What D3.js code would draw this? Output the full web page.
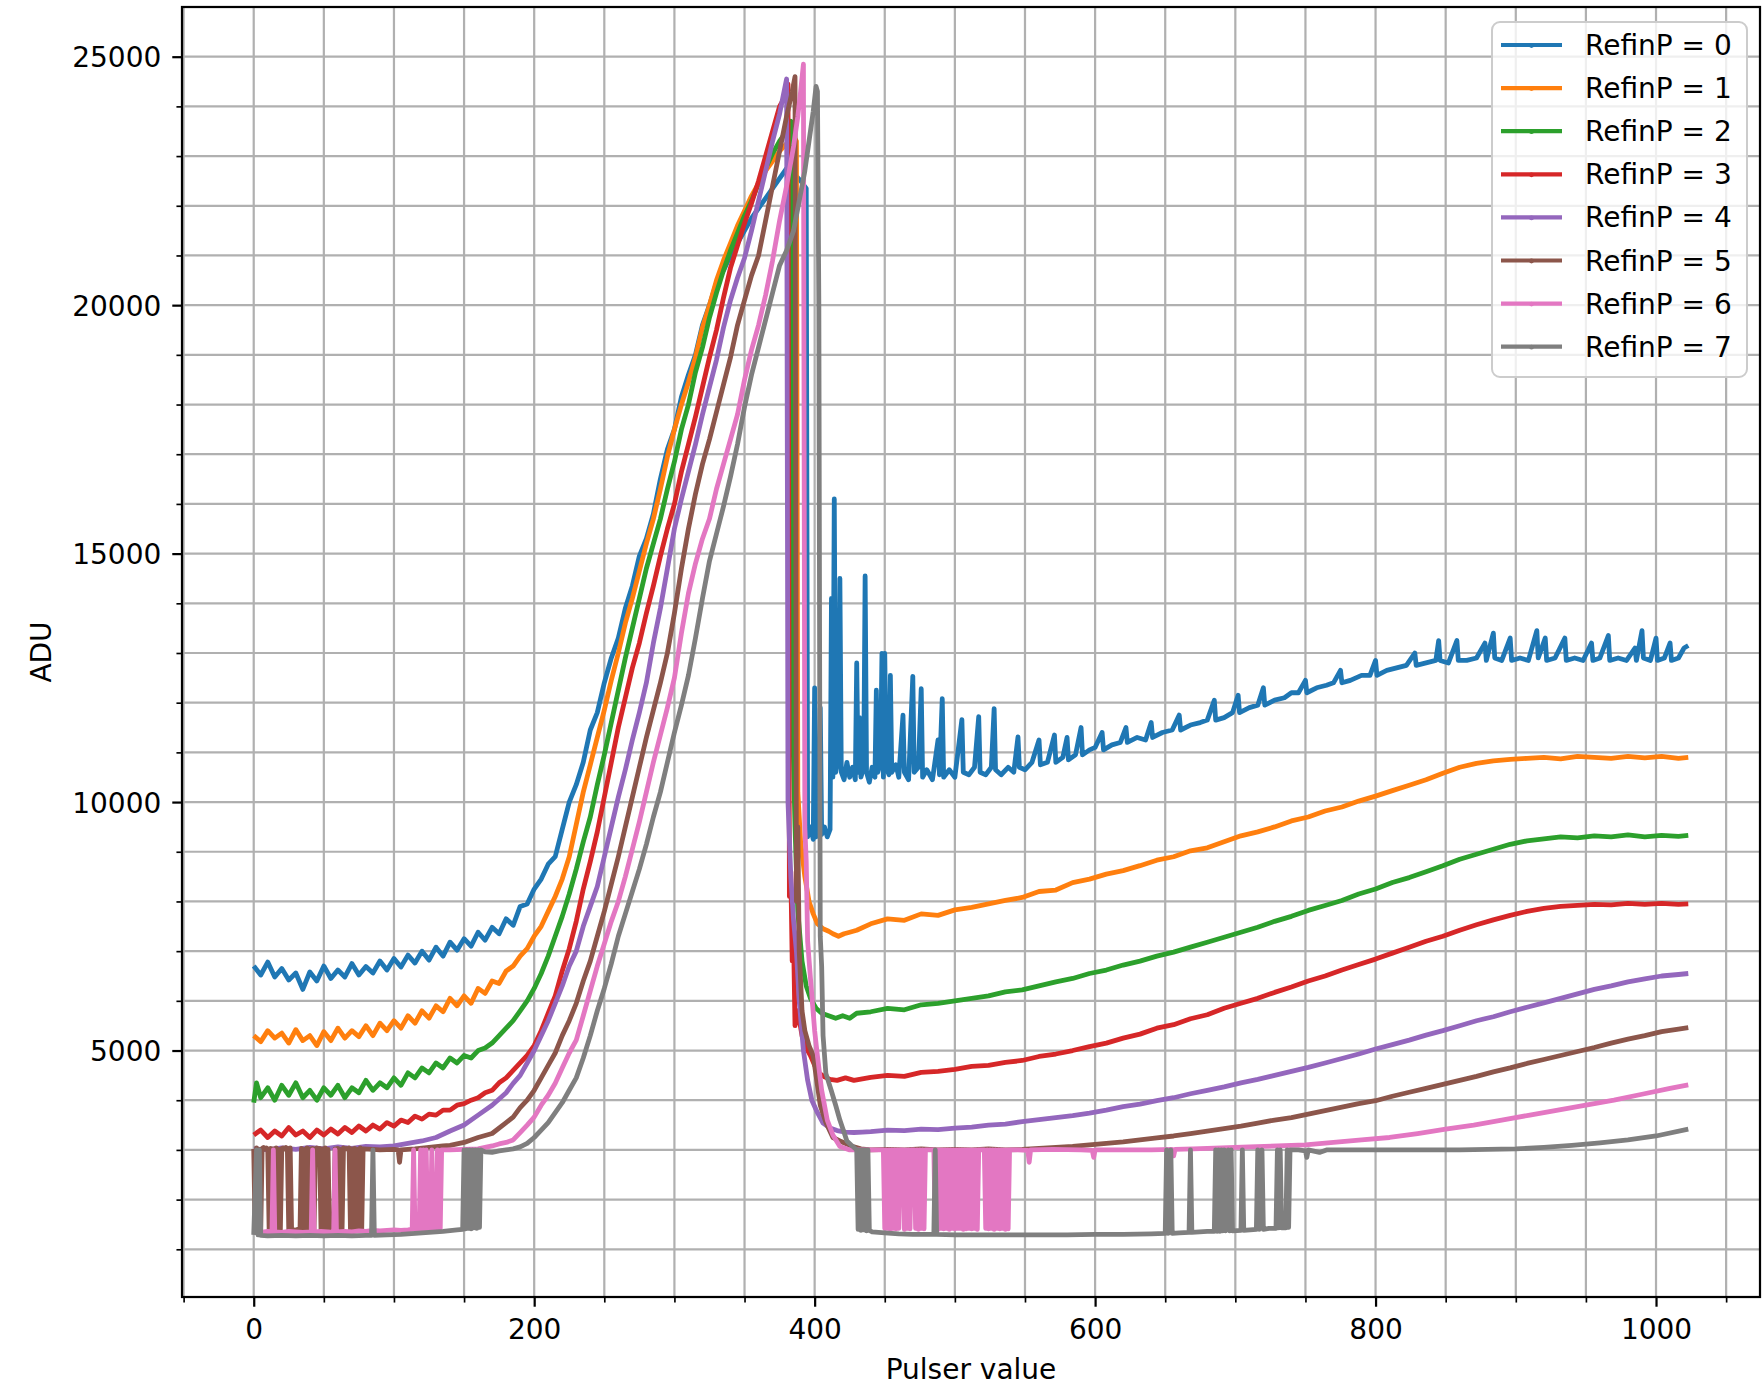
<!DOCTYPE html>
<html>
<head>
<meta charset="utf-8">
<script src="https://cdn.jsdelivr.net/npm/d3@7"></script>
<style>
  body { margin: 0; background: #fff; }
  svg { display: block; font-family: 'DejaVu Sans', sans-serif; }
</style>
</head>
<body>
<svg id="chart"></svg>
<script>
const xMajorTicks = [0, 200, 400, 600, 800, 1000]
const yMajorTicks = [5000, 10000, 15000, 20000, 25000]
const seriesNames = ['RefinP = 0', 'RefinP = 1', 'RefinP = 2', 'RefinP = 3', 'RefinP = 4', 'RefinP = 5', 'RefinP = 6', 'RefinP = 7']

// [pulser value, ADU] pairs
const refinP0 = [[0,6700],[5,6520],[10,6780],[15,6480],[20,6650],[25,6420],[30,6560],[35,6230],[40,6580],[45,6400],[50,6700],[55,6450],[60,6620],[65,6480],[70,6750],[75,6520],[80,6690],[85,6560],[90,6800],[95,6620],[100,6850],[105,6680],[110,6920],[115,6760],[120,7000],[125,6820],[130,7080],[135,6900],[140,7180],[145,7020],[150,7250],[155,7100],[160,7380],[165,7220],[170,7480],[175,7350],[180,7650],[185,7520],[190,7900],[195,7950],[200,8250],[205,8450],[210,8750],[215,8900],[220,9450],[225,10000],[230,10350],[235,10800],[240,11450],[245,11800],[250,12400],[255,12900],[260,13300],[265,13900],[270,14350],[275,14950],[280,15300],[285,15800],[290,16500],[295,17100],[300,17500],[305,18150],[310,18600],[315,19000],[320,19600],[325,20000],[330,20450],[335,20700],[340,21000],[345,21250],[350,21500],[355,21750],[360,21950],[365,22150],[370,22350],[375,22550],[380,22750],[385,22650],[390,22500],[394,22350],[395,9300],[397,9500],[399,9250],[400,12300],[401,9300],[403,9400],[404,11900],[405,9350],[407,9500],[409,9300],[411,9450],[412,14100],[413,10500],[414,16100],[415,10600],[417,10900],[418,14500],[419,10600],[421,10450],[423,10800],[425,10500],[427,10700],[429,10450],[430,12800],[431,10600],[432,11700],[433,10500],[435,10700],[436,14550],[437,10600],[439,10400],[441,10700],[443,10500],[444,12250],[445,10600],[447,10800],[448,12990],[449,10500],[450,12990],[451,10700],[453,10550],[454,12550],[455,10600],[458,10750],[460,10500],[463,11750],[464,10600],[467,10450],[470,12530],[471,10600],[474,10700],[476,12280],[477,10500],[480,10650],[484,10450],[488,11250],[489,10550],[491,12080],[492,10500],[496,10650],[500,10500],[505,11660],[506,10600],[510,10550],[514,10700],[517,11720],[518,10600],[522,10550],[526,10700],[528,11880],[529,10650],[533,10550],[538,10700],[542,10600],[545,11310],[546,10700],[550,10650],[555,10800],[560,11250],[561,10750],[566,10800],[571,11350],[572,10800],[577,10900],[580,11300],[581,10850],[586,10950],[590,11500],[591,10950],[596,11050],[600,11100],[605,11400],[606,11050],[612,11150],[618,11200],[622,11500],[623,11200],[630,11300],[636,11250],[640,11600],[641,11300],[648,11400],[655,11450],[660,11750],[661,11450],[668,11550],[675,11600],[680,11650],[685,12050],[686,11650],[692,11700],[698,11800],[702,12150],[703,11800],[710,11900],[716,11950],[720,12300],[721,11950],[728,12050],[735,12100],[740,12200],[745,12200],[750,12450],[751,12200],[758,12300],[765,12350],[770,12400],[775,12650],[776,12400],[782,12450],[790,12550],[796,12550],[800,12850],[801,12550],[808,12650],[815,12700],[822,12750],[828,13000],[829,12750],[836,12800],[843,12850],[845,13250],[846,12850],[852,12800],[858,13250],[859,12850],[865,12850],[872,12900],[878,13200],[879,12850],[884,13400],[885,12900],[890,12850],[896,13300],[897,12850],[903,12900],[909,12850],[915,13450],[916,12900],[921,13300],[922,12850],[928,12900],[935,13300],[936,12850],[942,12900],[948,12850],[954,13200],[955,12850],[960,12900],[966,13350],[967,12850],[973,12900],[979,12850],[985,13100],[986,12850],[990,13450],[991,12900],[996,12850],[1000,13300],[1001,12850],[1006,12900],[1010,13200],[1011,12850],[1016,12900],[1020,13100],[1023,13150]]

const refinP1 = [[0,5300],[5,5180],[10,5400],[15,5250],[20,5350],[25,5150],[30,5420],[35,5200],[40,5300],[45,5100],[50,5380],[55,5200],[60,5450],[65,5250],[70,5400],[75,5280],[80,5500],[85,5300],[90,5550],[95,5400],[100,5600],[105,5450],[110,5700],[115,5550],[120,5800],[125,5650],[130,5900],[135,5780],[140,6050],[145,5900],[150,6100],[155,5950],[160,6250],[165,6150],[170,6400],[175,6350],[180,6600],[185,6700],[190,6900],[195,7050],[200,7300],[205,7500],[210,7800],[215,8100],[220,8450],[225,8900],[230,9550],[235,10200],[240,10750],[245,11300],[250,11850],[255,12450],[260,13000],[265,13600],[270,14100],[275,14650],[280,15200],[285,15700],[290,16300],[295,16950],[300,17500],[305,18000],[310,18450],[315,18950],[320,19550],[325,20000],[330,20500],[335,20900],[340,21250],[345,21600],[350,21900],[355,22200],[360,22450],[365,22700],[370,22900],[375,23100],[380,23250],[385,23400],[387,23300],[388,10200],[390,9200],[393,8500],[396,8000],[399,7750],[402,7550],[406,7450],[410,7400],[413,7350],[417,7300],[421,7350],[425,7380],[430,7420],[440,7550],[452,7650],[464,7620],[476,7750],[488,7720],[500,7830],[512,7880],[524,7950],[536,8020],[548,8080],[560,8200],[572,8230],[584,8380],[596,8450],[608,8550],[620,8620],[632,8720],[644,8830],[656,8900],[668,9020],[680,9080],[692,9200],[704,9320],[716,9400],[728,9500],[740,9620],[752,9700],[764,9820],[776,9900],[788,10020],[800,10120],[812,10230],[824,10340],[836,10450],[848,10580],[860,10700],[872,10780],[884,10830],[896,10860],[908,10880],[920,10900],[932,10870],[944,10920],[956,10900],[968,10880],[980,10920],[992,10890],[1004,10920],[1016,10880],[1023,10900]]

const refinP2 = [[0,3950],[2,4350],[5,4050],[10,4250],[15,4000],[20,4300],[25,4100],[30,4350],[35,4050],[40,4200],[45,4000],[50,4250],[55,4100],[60,4300],[65,4050],[70,4250],[75,4150],[80,4400],[85,4200],[90,4350],[95,4250],[100,4450],[105,4300],[110,4550],[115,4450],[120,4650],[125,4550],[130,4750],[135,4650],[140,4850],[145,4750],[150,4900],[155,4850],[160,5000],[165,5050],[170,5150],[175,5300],[180,5450],[185,5600],[190,5800],[195,6000],[200,6250],[205,6550],[210,6900],[215,7300],[220,7700],[225,8150],[230,8650],[235,9200],[240,9700],[245,10350],[250,10950],[255,11600],[260,12250],[265,12900],[270,13500],[275,14100],[280,14700],[285,15200],[290,15700],[295,16300],[300,16850],[305,17500],[310,18000],[315,18650],[320,19150],[325,19750],[330,20250],[335,20700],[340,21100],[345,21450],[350,21800],[355,22100],[360,22450],[365,22750],[370,23050],[375,23300],[380,23500],[383,23700],[384,12000],[386,9500],[388,7800],[391,6800],[394,6300],[397,6050],[401,5850],[405,5750],[410,5700],[415,5650],[420,5700],[425,5650],[430,5750],[440,5780],[452,5850],[464,5820],[476,5920],[488,5950],[500,6000],[512,6050],[524,6100],[536,6180],[548,6220],[560,6300],[572,6380],[584,6450],[596,6550],[608,6620],[620,6720],[632,6800],[644,6900],[656,6980],[668,7080],[680,7180],[692,7280],[704,7380],[716,7480],[728,7600],[740,7700],[752,7820],[764,7920],[776,8020],[788,8150],[800,8250],[812,8380],[824,8480],[836,8600],[848,8720],[860,8850],[872,8950],[884,9050],[896,9150],[908,9220],[920,9260],[932,9300],[944,9280],[956,9320],[968,9300],[980,9340],[992,9300],[1004,9330],[1016,9310],[1023,9330]]

const refinP3 = [[0,3300],[5,3400],[10,3250],[15,3380],[20,3280],[25,3450],[30,3300],[35,3380],[40,3250],[45,3400],[50,3300],[55,3420],[60,3320],[65,3450],[70,3350],[75,3480],[80,3380],[85,3500],[90,3420],[95,3550],[100,3480],[105,3600],[110,3550],[115,3680],[120,3620],[125,3720],[130,3700],[135,3800],[140,3800],[145,3900],[150,3930],[155,4000],[160,4050],[165,4150],[170,4200],[175,4350],[180,4450],[185,4600],[190,4750],[195,4900],[200,5100],[205,5400],[210,5750],[215,6100],[220,6600],[225,7050],[230,7600],[235,8250],[240,8800],[245,9400],[250,10100],[255,10800],[260,11500],[265,12100],[270,12700],[275,13200],[280,13800],[285,14350],[290,14950],[295,15500],[300,16000],[305,16650],[310,17200],[315,17750],[320,18350],[325,18950],[330,19500],[335,20150],[340,20750],[345,21200],[350,21650],[355,22050],[360,22500],[365,23000],[370,23500],[375,24000],[379,24200],[381,24450],[382,8100],[383,8600],[384,6800],[385,7200],[386,5500],[388,5800],[391,5300],[394,5050],[397,4900],[400,4700],[403,4550],[407,4470],[411,4420],[416,4400],[422,4450],[428,4400],[434,4430],[440,4460],[452,4500],[464,4480],[476,4560],[488,4580],[500,4620],[512,4680],[524,4700],[536,4760],[548,4800],[560,4880],[572,4930],[584,5000],[596,5080],[608,5150],[620,5250],[632,5330],[644,5450],[656,5520],[668,5640],[680,5720],[692,5850],[704,5950],[716,6050],[728,6170],[740,6280],[752,6400],[764,6500],[776,6620],[788,6730],[800,6840],[812,6960],[824,7080],[836,7200],[848,7300],[860,7420],[872,7530],[884,7630],[896,7720],[908,7800],[920,7860],[932,7900],[944,7920],[956,7940],[968,7930],[980,7960],[992,7940],[1004,7960],[1016,7940],[1023,7950]]

const refinP4 = [[0,3020],[10,3000],[20,3040],[30,3010],[40,3050],[50,3020],[60,3060],[70,3030],[80,3070],[90,3060],[100,3080],[110,3130],[120,3180],[130,3250],[140,3380],[150,3500],[160,3700],[170,3900],[180,4150],[185,4340],[190,4500],[195,4750],[200,5000],[205,5300],[210,5600],[215,5950],[220,6300],[225,6700],[230,7000],[235,7500],[240,7900],[245,8300],[250,8900],[255,9500],[260,10100],[265,10650],[270,11250],[275,11800],[280,12400],[285,13200],[290,13900],[295,14700],[300,15500],[305,16100],[310,16650],[315,17200],[320,17800],[325,18350],[330,18900],[335,19550],[340,20100],[345,20550],[350,20950],[355,21500],[360,22100],[365,22700],[370,23300],[375,23850],[380,24550],[381,10000],[383,8500],[385,7600],[387,7000],[389,6000],[392,5000],[395,4400],[398,4000],[402,3750],[406,3540],[411,3440],[416,3390],[422,3360],[428,3350],[434,3360],[440,3370],[452,3400],[464,3390],[476,3420],[488,3410],[500,3440],[512,3460],[524,3500],[536,3520],[548,3570],[560,3610],[572,3650],[584,3690],[596,3740],[608,3800],[620,3870],[632,3920],[644,3990],[656,4050],[668,4130],[680,4200],[692,4270],[704,4350],[716,4420],[728,4500],[740,4580],[752,4660],[764,4750],[776,4840],[788,4930],[800,5030],[812,5120],[824,5210],[836,5310],[848,5400],[860,5500],[872,5600],[884,5680],[896,5780],[908,5870],[920,5960],[932,6050],[944,6140],[956,6230],[968,6300],[980,6380],[992,6440],[1004,6500],[1016,6530],[1023,6550]]

const refinP5 = [[0,3020],[1,1380],[2,3040],[3,1390],[4,3010],[5,1380],[6,3030],[7,3050],[8,3020],[9,3040],[10,3010],[11,1390],[12,3030],[13,1380],[14,3020],[15,1400],[16,3040],[17,1380],[18,3010],[19,1390],[20,3030],[21,3040],[22,3020],[23,3050],[24,3010],[25,1380],[26,3040],[27,1390],[28,1380],[29,1390],[30,1380],[31,1400],[32,1390],[33,1380],[34,3030],[35,1380],[36,3010],[37,1400],[38,3040],[39,1390],[40,3020],[41,1380],[42,3030],[43,1390],[44,3010],[45,3040],[46,3020],[47,3030],[48,1380],[49,3020],[50,1390],[51,3040],[52,1380],[53,3010],[54,1400],[55,1390],[56,1380],[57,1400],[58,3020],[59,1390],[60,3030],[61,1380],[62,3010],[63,1390],[64,3040],[65,3020],[66,3030],[67,3010],[68,3040],[69,1380],[70,3020],[71,1390],[72,3030],[73,1380],[74,3010],[75,1400],[76,3040],[77,1390],[78,3020],[85,3010],[90,3000],[100,3010],[103,3000],[104,2750],[105,3000],[115,3020],[125,3050],[135,3080],[140,3090],[150,3150],[160,3250],[170,3330],[180,3550],[185,3660],[190,3850],[195,4000],[200,4200],[205,4450],[210,4700],[215,4950],[220,5300],[225,5600],[230,5950],[235,6400],[240,6800],[245,7300],[250,7800],[255,8350],[260,8900],[265,9500],[270,10100],[275,10700],[280,11300],[285,11850],[290,12400],[295,13000],[300,13800],[305,14700],[310,15500],[315,16200],[320,16800],[325,17300],[330,17850],[335,18400],[340,18950],[345,19600],[350,20100],[355,20600],[360,21000],[365,21700],[370,22400],[375,23100],[380,23800],[384,24300],[386,24600],[387,8000],[388,9500],[389,7000],[391,5800],[393,5400],[396,5100],[399,4890],[402,4300],[404,3900],[408,3550],[413,3250],[418,3180],[423,3120],[428,3060],[433,3020],[440,3000],[452,3010],[464,3000],[476,3020],[488,3000],[500,3010],[512,3000],[524,3020],[536,3000],[548,3010],[560,3030],[572,3050],[584,3070],[596,3100],[608,3130],[620,3160],[632,3200],[644,3240],[656,3280],[668,3330],[680,3380],[692,3430],[704,3480],[716,3540],[728,3600],[740,3650],[752,3720],[764,3790],[776,3860],[788,3930],[800,3990],[812,4080],[824,4160],[836,4240],[848,4320],[860,4400],[872,4480],[884,4570],[896,4650],[908,4740],[920,4820],[932,4900],[944,4980],[956,5060],[968,5150],[980,5230],[992,5300],[1004,5380],[1016,5430],[1023,5460]]

const refinP6 = [[0,1350],[5,1340],[10,1360],[13,1350],[14,3000],[15,1350],[20,1340],[25,1360],[30,1350],[35,1340],[41,1350],[42,3000],[43,1350],[48,1360],[53,1350],[57,1340],[58,3000],[59,1350],[65,1360],[70,1350],[75,1370],[80,1360],[85,1380],[90,1370],[95,1380],[100,1390],[105,1380],[110,1390],[113,1400],[114,3000],[115,1400],[118,1390],[119,3000],[120,1400],[121,3000],[122,1400],[123,3000],[124,1400],[126,1400],[127,3000],[128,1400],[130,1410],[131,3000],[132,1400],[133,1410],[134,3000],[140,3000],[150,3010],[160,3020],[165,3050],[170,3080],[175,3120],[180,3150],[185,3200],[190,3350],[195,3500],[200,3660],[205,3900],[210,4100],[215,4340],[220,4650],[225,4950],[230,5210],[235,5700],[240,6200],[245,6700],[250,7150],[255,7600],[260,8000],[265,8500],[270,9050],[275,9600],[280,10200],[285,10800],[290,11350],[295,11900],[300,12500],[305,13400],[310,14200],[315,14800],[320,15300],[325,15700],[330,16300],[335,16800],[340,17300],[345,17800],[350,18500],[355,19100],[360,19600],[365,20200],[370,20900],[375,21700],[380,22400],[385,23200],[388,23800],[390,24300],[392,24850],[393,9500],[394,8800],[395,7200],[397,6460],[400,5400],[402,4890],[405,4200],[409,3600],[413,3300],[418,3070],[425,3000],[432,3000],[440,3000],[449,3000],[450,1420],[451,3000],[452,1420],[453,3000],[454,1400],[455,3000],[456,1420],[457,3000],[458,1410],[459,3000],[460,1420],[461,3000],[462,3000],[463,3000],[464,1400],[465,3000],[466,1420],[467,3000],[468,1410],[469,3000],[470,3000],[471,3000],[472,1420],[473,3000],[474,1400],[475,3000],[476,1420],[477,3000],[478,1410],[479,3000],[480,3000],[481,3000],[482,3000],[483,3000],[484,3000],[485,3000],[486,1420],[487,3000],[488,1400],[489,3000],[490,1420],[491,3000],[492,1410],[493,3000],[494,1420],[495,3000],[496,1400],[497,3000],[498,1420],[499,3000],[500,1410],[501,3000],[502,1420],[503,3000],[504,1420],[505,3000],[506,1400],[507,3000],[508,1410],[509,3000],[510,1420],[511,3000],[512,1410],[513,3000],[514,1420],[515,3000],[516,1400],[517,3000],[518,3000],[519,3000],[520,3000],[521,3000],[522,1420],[523,3000],[524,1410],[525,3000],[526,1420],[527,3000],[528,1400],[529,3000],[530,1420],[531,3000],[532,1410],[533,3000],[534,1420],[535,3000],[536,1400],[537,3000],[538,1410],[539,3000],[545,3000],[552,2990],[553,2750],[554,3000],[570,3010],[590,3000],[598,2990],[599,2850],[600,3000],[620,3000],[640,3000],[655,3010],[656,2880],[657,3010],[670,3020],[690,3040],[710,3060],[730,3080],[750,3100],[770,3150],[790,3200],[810,3250],[830,3330],[850,3420],[870,3500],[890,3600],[910,3700],[930,3800],[950,3900],[970,4000],[990,4120],[1010,4240],[1023,4310]]

const refinP7 = [[0,1290],[2,3000],[3,1290],[4,3000],[5,1280],[10,1270],[20,1280],[30,1270],[40,1280],[50,1270],[60,1280],[70,1270],[80,1280],[84,1280],[85,3000],[86,1280],[95,1290],[105,1300],[115,1320],[125,1340],[135,1360],[145,1390],[149,1400],[150,3000],[151,1410],[152,3000],[153,1420],[154,3000],[155,1410],[156,3000],[157,1430],[158,3000],[159,1420],[160,3000],[161,1440],[162,3000],[165,2960],[170,2950],[175,2980],[180,3000],[185,3020],[190,3060],[195,3130],[200,3250],[205,3400],[210,3550],[215,3750],[220,3950],[225,4200],[230,4450],[235,4850],[240,5300],[245,5800],[250,6250],[255,6750],[260,7300],[265,7750],[270,8200],[275,8650],[280,9150],[285,9700],[290,10200],[295,10800],[300,11400],[305,11950],[310,12550],[315,13300],[320,14100],[325,14850],[330,15400],[335,15950],[340,16550],[345,17200],[350,17950],[355,18600],[360,19150],[365,19700],[370,20250],[375,20800],[380,21100],[385,21500],[389,22100],[393,22700],[396,23300],[399,23900],[401,24400],[402,24300],[403,20000],[404,7300],[405,6700],[406,5300],[408,4540],[412,4180],[415,3900],[418,3600],[421,3350],[423,3180],[426,3100],[430,3000],[431,1400],[432,3000],[433,1380],[434,3000],[435,1390],[436,3000],[437,1370],[438,3000],[439,1380],[441,1350],[450,1330],[460,1310],[470,1300],[480,1300],[485,1300],[486,3000],[487,1300],[500,1290],[520,1290],[540,1290],[560,1290],[580,1290],[600,1300],[620,1300],[640,1310],[650,1320],[651,3000],[652,1320],[654,3000],[655,1320],[660,1330],[667,1340],[668,3000],[669,1340],[680,1360],[685,1360],[686,3000],[687,1360],[688,3000],[689,1360],[690,3000],[691,1370],[692,3000],[693,1370],[695,3000],[696,1370],[697,3000],[698,1370],[704,1380],[705,3000],[706,1380],[715,1400],[716,3000],[717,1400],[719,3000],[720,1400],[724,1420],[729,1420],[730,3000],[731,1430],[732,3000],[733,1430],[736,1430],[737,3000],[738,1440],[739,3000],[745,3000],[750,2980],[751,2850],[752,3000],[760,2950],[765,3000],[780,3000],[800,3000],[820,3000],[840,3000],[860,3000],[880,3010],[900,3020],[920,3050],[940,3090],[960,3140],[980,3200],[1000,3280],[1023,3420]]

const seriesColors = ['#1f77b4', '#ff7f0e', '#2ca02c', '#d62728', '#9467bd', '#8c564b', '#e377c2', '#7f7f7f']

const drawChart = () => {
  const svgWidth = 1762
  const svgHeight = 1392
  const plotLeft = 182
  const plotRight = 1760
  const plotTop = 7
  const plotBottom = 1297
  const pt = 200 / 72
  const fontSize = 28

  const svg = d3.select('#chart')
    .attr('width', svgWidth)
    .attr('height', svgHeight)

  svg.append('rect')
    .attr('width', svgWidth)
    .attr('height', svgHeight)
    .attr('fill', '#fff')

  const x = d3.scaleLinear().domain([-51.15, 1074.15]).range([plotLeft, plotRight])
  const y = d3.scaleLinear().domain([40, 26000]).range([plotBottom, plotTop])

  const xGrid = d3.range(-50, 1051, 50)
  const yGrid = d3.range(1000, 25001, 1000)

  // grid, major and minor alike
  const grid = svg.append('g')
    .attr('stroke', '#b0b0b0')
    .attr('stroke-width', 0.8 * pt)

  grid.selectAll('line.gx')
    .data(xGrid)
    .join('line')
    .classed('gx', true)
    .attr('x1', d => x(d))
    .attr('x2', d => x(d))
    .attr('y1', plotTop)
    .attr('y2', plotBottom)

  grid.selectAll('line.gy')
    .data(yGrid)
    .join('line')
    .classed('gy', true)
    .attr('x1', plotLeft)
    .attr('x2', plotRight)
    .attr('y1', d => y(d))
    .attr('y2', d => y(d))

  svg.append('clipPath')
    .attr('id', 'plot-clip')
    .append('rect')
    .attr('x', plotLeft)
    .attr('y', plotTop)
    .attr('width', plotRight - plotLeft)
    .attr('height', plotBottom - plotTop)

  const series = [refinP0, refinP1, refinP2, refinP3, refinP4, refinP5, refinP6, refinP7]
  const line = d3.line()
    .x(d => x(d[0]))
    .y(d => y(d[1]))

  svg.append('g')
    .attr('clip-path', 'url(#plot-clip)')
    .selectAll('path')
    .data(series)
    .join('path')
    .attr('d', d => line(d))
    .attr('fill', 'none')
    .attr('stroke', (_, i) => seriesColors[i])
    .attr('stroke-width', 4.8)
    .attr('stroke-linejoin', 'round')

  // axes
  const styleAxis = g => {
    g.select('.domain').remove()
    g.attr('font-family', "'DejaVu Sans', sans-serif")
      .attr('font-size', fontSize)
    g.selectAll('text').attr('fill', '#000')
    g.selectAll('line').attr('stroke', '#000')
  }

  svg.append('g')
    .attr('transform', `translate(0, ${plotBottom})`)
    .call(d3.axisBottom(x).tickValues(xGrid.filter(d => d % 200 !== 0)).tickSize(2 * pt).tickFormat(''))
    .call(styleAxis)
    .selectAll('line').attr('stroke-width', 0.6 * pt)

  svg.append('g')
    .attr('transform', `translate(0, ${plotBottom})`)
    .call(d3.axisBottom(x).tickValues(xMajorTicks).tickSize(3.5 * pt).tickPadding(12).tickFormat(d3.format('d')))
    .call(styleAxis)
    .selectAll('line').attr('stroke-width', 0.8 * pt)

  svg.append('g')
    .attr('transform', `translate(${plotLeft}, 0)`)
    .call(d3.axisLeft(y).tickValues(yGrid.filter(d => d % 5000 !== 0)).tickSize(2 * pt).tickFormat(''))
    .call(styleAxis)
    .selectAll('line').attr('stroke-width', 0.6 * pt)

  const yAxis = svg.append('g')
    .attr('transform', `translate(${plotLeft}, 0)`)
    .call(d3.axisLeft(y).tickValues(yMajorTicks).tickSize(3.5 * pt).tickPadding(11).tickFormat(d3.format('d')))
    .call(styleAxis)
  yAxis.selectAll('line').attr('stroke-width', 0.8 * pt)
  yAxis.selectAll('text').attr('dy', '0.36em')

  svg.append('rect')
    .attr('x', plotLeft)
    .attr('y', plotTop)
    .attr('width', plotRight - plotLeft)
    .attr('height', plotBottom - plotTop)
    .attr('fill', 'none')
    .attr('stroke', '#000')
    .attr('stroke-width', 0.8 * pt)

  svg.append('text')
    .text('Pulser value')
    .attr('x', (plotLeft + plotRight) / 2)
    .attr('y', 1379)
    .attr('text-anchor', 'middle')
    .attr('font-size', fontSize)
    .attr('fill', '#000')

  svg.append('text')
    .text('ADU')
    .attr('transform', `translate(51, ${(plotTop + plotBottom) / 2}) rotate(-90)`)
    .attr('text-anchor', 'middle')
    .attr('font-size', fontSize)
    .attr('fill', '#000')

  // legend
  const legendX = 1492
  const legendY = 22
  const rowStep = 43.1

  const legend = svg.append('g').attr('id', 'legend')

  legend.append('rect')
    .attr('x', legendX)
    .attr('y', legendY)
    .attr('width', 255)
    .attr('height', 355)
    .attr('rx', 8)
    .attr('fill', '#fff')
    .attr('fill-opacity', 0.8)
    .attr('stroke', '#cccccc')
    .attr('stroke-width', 2)

  const rows = legend.selectAll('g.row')
    .data(seriesNames)
    .join('g')
    .classed('row', true)
    .attr('transform', (_, i) => `translate(0, ${45 + i * rowStep})`)

  rows.append('line')
    .attr('x1', 1501)
    .attr('x2', 1562)
    .attr('stroke', (_, i) => seriesColors[i])
    .attr('stroke-width', 1.5 * pt)

  rows.append('circle')
    .attr('cx', 1531.5)
    .attr('cy', 0.5)
    .attr('r', 2.4)
    .attr('fill', (_, i) => seriesColors[i])

  rows.append('text')
    .text(d => d)
    .attr('x', 1585)
    .attr('y', 10)
    .attr('font-size', fontSize)
    .attr('fill', '#000')
}

drawChart()
</script>
</body>
</html>
